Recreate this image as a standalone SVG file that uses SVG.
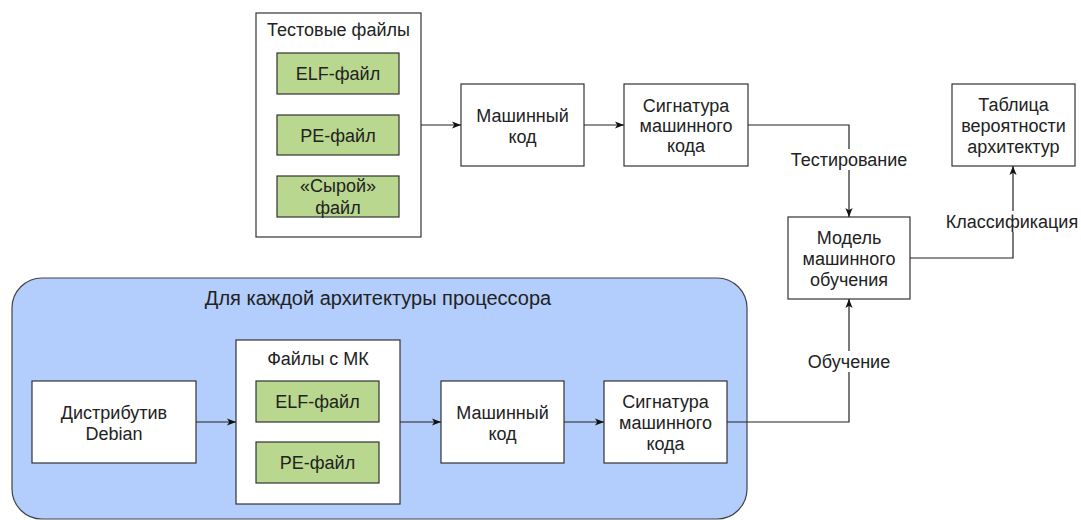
<svg xmlns="http://www.w3.org/2000/svg" width="1081" height="520" viewBox="0 0 1081 520">
  <style>
    text { font-family: "Liberation Sans", Arial, sans-serif; font-size: 18px; fill: #222222; text-anchor: middle; }
    .box { fill: #ffffff; stroke: #333333; stroke-width: 1.2; }
    .file { fill: #b9d78e; stroke: #333333; stroke-width: 1.2; }
    .group { fill: #b3cdfd; stroke: #444444; stroke-width: 1.2; }
    .edge { fill: none; stroke: #222222; stroke-width: 1.2; }
    .lbl-bg { fill: #ffffff; }
    .title { font-size: 20px; }
  </style>
  <defs>
    <marker id="arrow" viewBox="0 0 10 10" refX="10" refY="5" markerWidth="9" markerHeight="9" markerUnits="userSpaceOnUse" orient="auto">
      <path d="M0,1 L10,5 L0,9 L2.5,5 Z" fill="#111111"/>
    </marker>
  </defs>

  <rect width="1081" height="520" fill="#ffffff"/>

  <!-- Processing loop container -->
  <g id="arch-loop">
    <rect class="group" x="12" y="278" width="735" height="241" rx="30" ry="30"/>
    <text class="title" x="378" y="305">Для каждой архитектуры процессора</text>
  </g>

  <!-- Test input files -->
  <g id="test-files">
    <rect class="box" x="256" y="13" width="165" height="224"/>
    <text x="338.5" y="35.5">Тестовые файлы</text>
    <rect class="file" x="277" y="53" width="122" height="41"/>
    <text x="338" y="80">ELF-файл</text>
    <rect class="file" x="277" y="115" width="122" height="40"/>
    <text x="338" y="141.5">PE-файл</text>
    <rect class="file" x="277" y="176" width="122" height="41"/>
    <text x="338" y="191.5">«Сырой»</text>
    <text x="338" y="213.5">файл</text>
  </g>

  <g id="test-machine-code">
    <rect class="box" x="461" y="84" width="123" height="82"/>
    <text x="522.5" y="121.5">Машинный</text>
    <text x="522.5" y="142.5">код</text>
  </g>

  <g id="test-signature">
    <rect class="box" x="624" y="84" width="124" height="82"/>
    <text x="686" y="111.5">Сигнатура</text>
    <text x="686" y="131.5">машинного</text>
    <text x="686" y="152">кода</text>
  </g>

  <g id="ml-model">
    <rect class="box" x="788" y="217" width="122" height="82"/>
    <text x="849" y="243.5">Модель</text>
    <text x="849" y="264.5">машинного</text>
    <text x="849" y="285.5">обучения</text>
  </g>

  <g id="probability-table">
    <rect class="box" x="952" y="84" width="123" height="82"/>
    <text x="1013.5" y="110.5">Таблица</text>
    <text x="1013.5" y="131.5">вероятности</text>
    <text x="1013.5" y="152.5">архитектур</text>
  </g>

  <g id="debian">
    <rect class="box" x="32" y="381" width="164" height="82"/>
    <text x="114" y="419">Дистрибутив</text>
    <text x="114" y="439.5">Debian</text>
  </g>

  <g id="mk-files">
    <rect class="box" x="236" y="340" width="164" height="164"/>
    <text x="318" y="364.5">Файлы с МК</text>
    <rect class="file" x="256" y="381" width="123" height="41"/>
    <text x="317.5" y="408">ELF-файл</text>
    <rect class="file" x="256" y="442" width="123" height="41"/>
    <text x="317.5" y="469">PE-файл</text>
  </g>

  <g id="train-machine-code">
    <rect class="box" x="441" y="381" width="123" height="82"/>
    <text x="502.5" y="418.5">Машинный</text>
    <text x="502.5" y="439.5">код</text>
  </g>

  <g id="train-signature">
    <rect class="box" x="604" y="381" width="123" height="82"/>
    <text x="665.5" y="407.5">Сигнатура</text>
    <text x="665.5" y="428.5">машинного</text>
    <text x="665.5" y="449.5">кода</text>
  </g>

  <!-- Connectors -->
  <g id="connectors">
    <path class="edge" d="M421,125 H461" marker-end="url(#arrow)"/>
    <path class="edge" d="M584,125 H624" marker-end="url(#arrow)"/>
    <path class="edge" d="M748,125 H849 V217" marker-end="url(#arrow)"/>
    <path class="edge" d="M910,258 H1013 V166" marker-end="url(#arrow)"/>
    <path class="edge" d="M196,422 H236" marker-end="url(#arrow)"/>
    <path class="edge" d="M400,422 H441" marker-end="url(#arrow)"/>
    <path class="edge" d="M564,422 H604" marker-end="url(#arrow)"/>
    <path class="edge" d="M727,422 H849 V299" marker-end="url(#arrow)"/>

    <rect class="lbl-bg" x="785" y="149" width="128" height="21"/>
    <text x="849" y="165.5">Тестирование</text>
    <rect class="lbl-bg" x="944" y="211" width="137" height="21"/>
    <text x="1012" y="227.5">Классификация</text>
    <rect class="lbl-bg" x="804" y="351" width="90" height="21"/>
    <text x="849" y="367.5">Обучение</text>
  </g>
</svg>
